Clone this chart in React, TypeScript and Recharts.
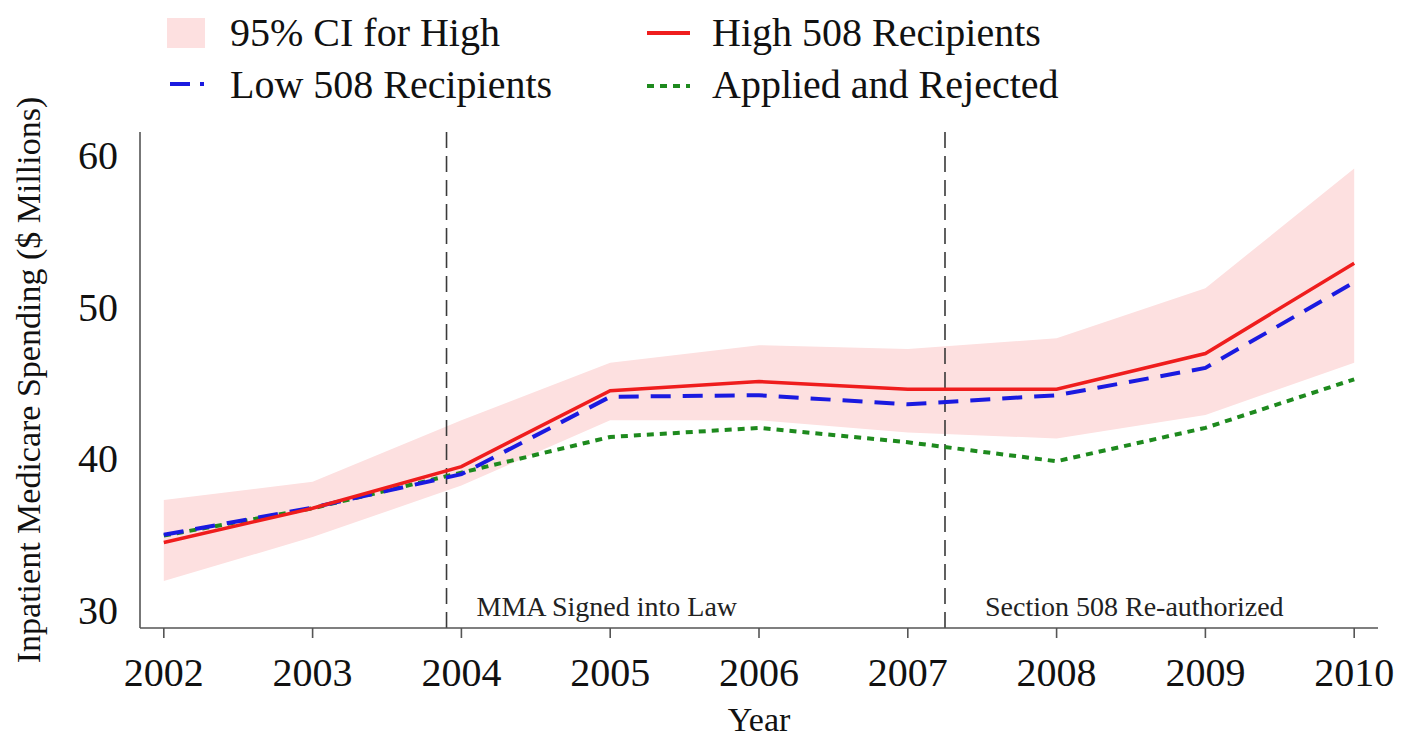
import React from "react";
import { ComposedChart, Line, Area, XAxis, YAxis, ReferenceLine } from "recharts";

const years = [2002, 2003, 2004, 2005, 2006, 2007, 2008, 2009, 2010];
const highRecipients = [34.45, 36.7, 39.45, 44.45, 45.05, 44.55, 44.55, 46.9, 52.85];
const lowRecipients = [34.95, 36.75, 38.95, 44.05, 44.15, 43.55, 44.15, 45.95, 51.6];
const appliedRejected = [34.9, 36.7, 39.05, 41.4, 42.0, 41.05, 39.8, 42.0, 45.2];
const ciLow = [31.9, 34.8, 38.2, 42.5, 42.5, 41.7, 41.3, 42.85, 46.3];
const ciHigh = [37.25, 38.45, 42.5, 46.3, 47.45, 47.2, 47.9, 51.2, 59.1];
const yTicks = [30, 40, 50, 60];
const events = [
  { x: 2003.9, label: "MMA Signed into Law", dx: 30 },
  { x: 2007.25, label: "Section 508 Re-authorized", dx: 40 },
];

const data = years.map((year, i) => ({
  year,
  high: highRecipients[i],
  low: lowRecipients[i],
  rejected: appliedRejected[i],
  ci: [ciLow[i], ciHigh[i]],
}));

const FONT = "'Liberation Serif', 'DejaVu Serif', serif";
const RED = "#ef1d1d";
const BLUE = "#1a1ae0";
const GREEN = "#1e8a1e";
const PINK = "#fde0e0";

function Legend() {
  const text: React.CSSProperties = {
    position: "absolute",
    fontFamily: FONT,
    fontSize: 40,
    lineHeight: "40px",
    color: "#111",
    whiteSpace: "nowrap",
  };
  return (
    <>
      <svg style={{ position: "absolute", left: 0, top: 0 }} width={720} height={110}>
        <rect x={167} y={18} width={38} height={30} fill={PINK} />
        <line x1={170} y1={84} x2={204} y2={84} stroke={BLUE} strokeWidth={4} strokeDasharray="20 10" />
        <line x1={647} y1={33} x2={690} y2={33} stroke={RED} strokeWidth={4} />
        <line x1={647} y1={86} x2={690} y2={86} stroke={GREEN} strokeWidth={4} strokeDasharray="7 6" />
      </svg>
      <div style={{ ...text, left: 230, top: 13 }}>95% CI for High</div>
      <div style={{ ...text, left: 230, top: 65 }}>Low 508 Recipients</div>
      <div style={{ ...text, left: 712, top: 13 }}>High 508 Recipients</div>
      <div style={{ ...text, left: 712, top: 65 }}>Applied and Rejected</div>
    </>
  );
}

export default function App() {
  return (
    <div style={{ position: "relative", width: 1403, height: 742, margin: -8, background: "#fff" }}>
      <ComposedChart
        width={1403}
        height={742}
        data={data}
        margin={{ top: 132, right: 25, bottom: 54, left: 60 }}
      >
        <Area
          dataKey="ci"
          type="linear"
          fill={PINK}
          fillOpacity={1}
          stroke="none"
          isAnimationActive={false}
          activeDot={false}
        />
        {events.map((e) => (
          <ReferenceLine
            key={e.label}
            x={e.x}
            stroke="#3a3a3a"
            strokeWidth={1.6}
            strokeDasharray="16 8"
            label={(props: any) => {
              const vb = props.viewBox || {};
              return (
                <text
                  x={vb.x + e.dx}
                  y={vb.y + vb.height - 12}
                  fontFamily={FONT}
                  fontSize={28}
                  fill="#222"
                >
                  {e.label}
                </text>
              );
            }}
          />
        ))}
        <Line dataKey="rejected" type="linear" stroke={GREEN} strokeWidth={4} strokeDasharray="7 6" dot={false} isAnimationActive={false} />
        <Line dataKey="low" type="linear" stroke={BLUE} strokeWidth={4} strokeDasharray="20 12" dot={false} isAnimationActive={false} />
        <Line dataKey="high" type="linear" stroke={RED} strokeWidth={3.5} dot={false} isAnimationActive={false} />
        <XAxis
          dataKey="year"
          type="number"
          domain={[2001.84, 2010.16]}
          ticks={years}
          allowDataOverflow
          height={60}
          axisLine={{ stroke: "#555", strokeWidth: 1.6 }}
          tickLine={{ stroke: "#555", strokeWidth: 1.6 }}
          tickSize={10}
          tickMargin={20}
          tick={{ fontFamily: FONT, fontSize: 40, fill: "#111" }}
          label={{
            content: (props: any) => {
              const vb = props.viewBox || {};
              return (
                <text x={vb.x + vb.width / 2} y={731} textAnchor="middle" fontFamily={FONT} fontSize={34} fill="#111">
                  Year
                </text>
              );
            },
          }}
        />
        <YAxis
          type="number"
          domain={[28.81, 61.5]}
          ticks={yTicks}
          allowDataOverflow
          width={80}
          axisLine={{ stroke: "#555", strokeWidth: 1.6 }}
          tickLine={false}
          tickSize={10}
          tickMargin={12}
          tick={{ fontFamily: FONT, fontSize: 40, fill: "#111" }}
          label={{
            content: (props: any) => {
              const vb = props.viewBox || {};
              const cx = 28;
              const cy = vb.y + vb.height / 2;
              return (
                <text
                  x={cx}
                  y={cy}
                  transform={`rotate(-90 ${cx} ${cy})`}
                  textAnchor="middle"
                  dominantBaseline="central"
                  fontFamily={FONT}
                  fontSize={34}
                  fill="#111"
                >
                  Inpatient Medicare Spending ($ Millions)
                </text>
              );
            },
          }}
        />
      </ComposedChart>
      <Legend />
    </div>
  );
}
